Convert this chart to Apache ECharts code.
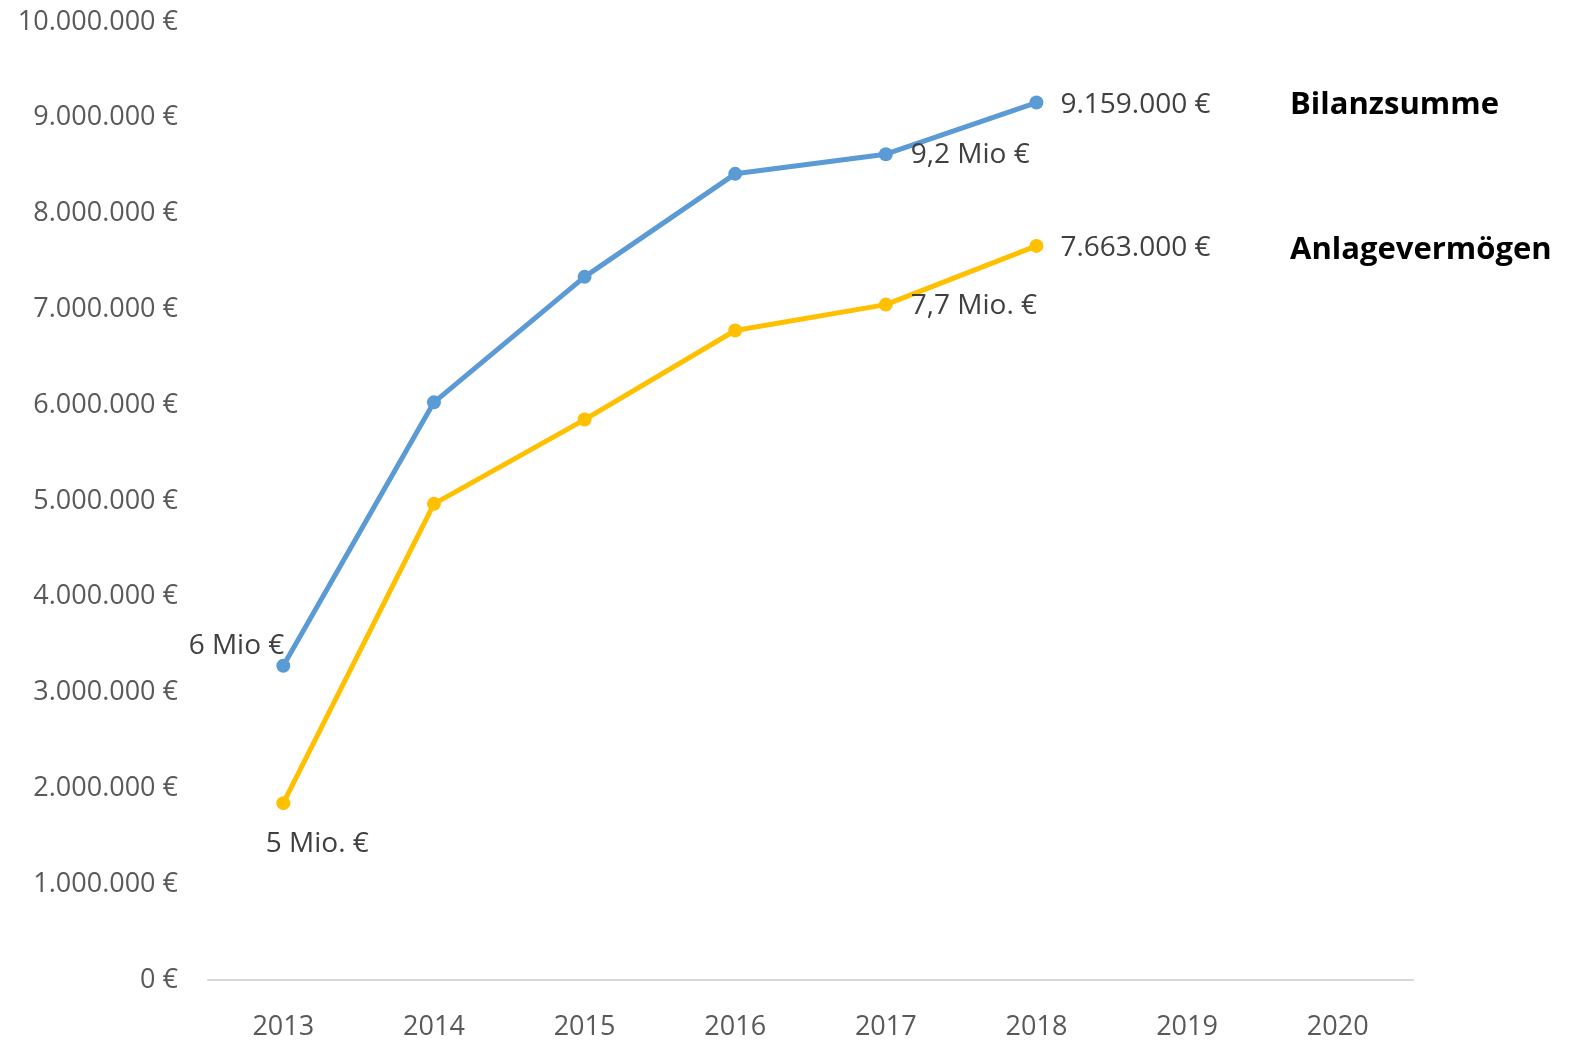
<!DOCTYPE html>
<html><head><meta charset="utf-8">
<script src="https://cdn.jsdelivr.net/npm/echarts@6/dist/echarts.min.js"></script>
<style>html,body{margin:0;padding:0;background:#fff}#c{width:1571px;height:1041px}</style>
</head><body><div id="c"></div>
<script>
const years = ['2013','2014','2015','2016','2017','2018','2019','2020'];
const bilanzsumme = [3280000, 6030000, 7340000, 8415000, 8620000, 9159000];
const anlagevermoegen = [1846000, 4970000, 5850000, 6780000, 7050000, 7663000];
const bilanzLabels = ['6 Mio €', null, null, null, '9,2 Mio €', '9.159.000 €'];
const anlageLabels = ['5 Mio. €', null, null, null, '7,7 Mio. €', '7.663.000 €'];
const seriesNames = ['Bilanzsumme', 'Anlagevermögen'];

const FONT = '"Open Sans", sans-serif';
const labelBase = {show:true, color:'#404040', fontFamily:FONT, fontSize:28};

function fmtEuro(v){
  if (v === 0) return '0 €';
  return String(v).replace(/\B(?=(\d{3})+(?!\d))/g, '.') + ' €';
}

const labelStyles = [
  {position:'left', offset:[13,-20]},
  null, null, null,
  {position:'right', offset:[13,1]},
  {position:'right', offset:[12,2]}
];
const labelStylesY = [
  {position:'bottom', offset:[34,15]},
  null, null, null,
  {position:'right', offset:[13,1]},
  {position:'right', offset:[12,2]}
];

function build(vals, labs, styles){
  return vals.map((v,i)=>{
    const d = {value:v};
    if (labs[i]) d.label = Object.assign({}, labelBase, styles[i], {formatter: labs[i]});
    return d;
  });
}

const chart = echarts.init(document.getElementById('c'));
chart.setOption({
  animation:false,
  grid:{left:208, right:158, top:22, bottom:60},
  xAxis:{type:'category', data:years, boundaryGap:true,
    axisLine:{lineStyle:{color:'#D9D9D9', width:2}}, axisTick:{show:false},
    axisLabel:{color:'#595959', fontFamily:FONT, fontSize:27, margin:34}},
  yAxis:{type:'value', min:0, max:10000000, interval:1000000,
    splitLine:{show:false}, axisLine:{show:false}, axisTick:{show:false},
    axisLabel:{color:'#595959', fontFamily:FONT, fontSize:27, margin:30, formatter:fmtEuro}},
  series:[
    {name:seriesNames[0], type:'line', data:build(bilanzsumme, bilanzLabels, labelStyles),
     symbol:'circle', symbolSize:14, lineStyle:{color:'#5B9BD5', width:5}, itemStyle:{color:'#5B9BD5'}},
    {name:seriesNames[1], type:'line', data:build(anlagevermoegen, anlageLabels, labelStylesY),
     symbol:'circle', symbolSize:14, lineStyle:{color:'#FFC000', width:5}, itemStyle:{color:'#FFC000'}}
  ],
  graphic:[
    {type:'text', left:1290, top:90, style:{text:seriesNames[0], fill:'#000', font:'bold 31px "Open Sans", sans-serif'}},
    {type:'text', left:1290, top:235, style:{text:seriesNames[1], fill:'#000', font:'bold 31px "Open Sans", sans-serif'}}
  ]
});
</script></body></html>
